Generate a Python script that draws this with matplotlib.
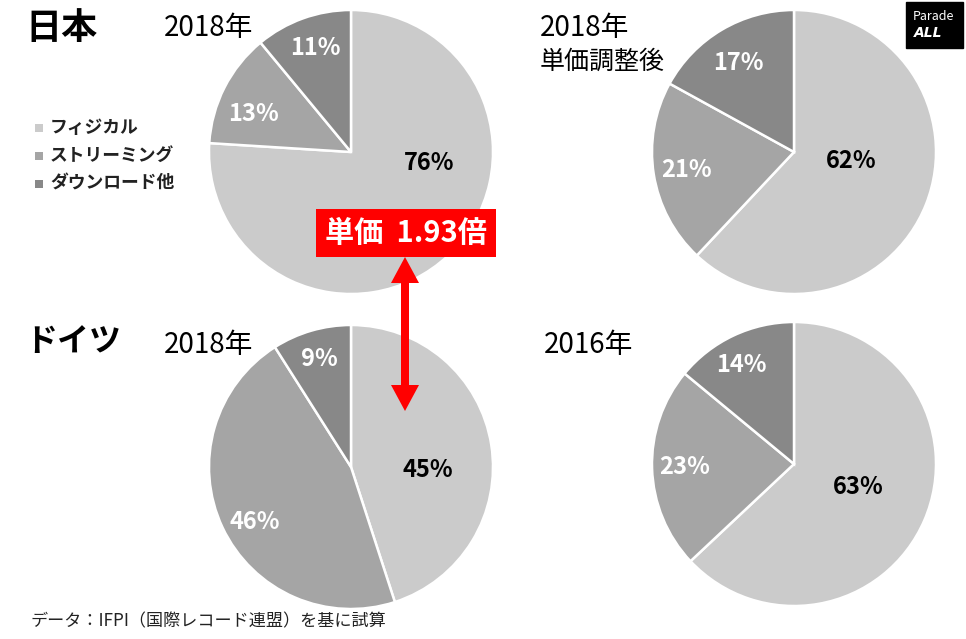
import matplotlib.pyplot as plt
import numpy as np

plt.rcParams['font.family'] = ['Noto Sans CJK JP', 'DejaVu Sans']

# data
categories = ['フィジカル', 'ストリーミング', 'ダウンロード他']
japan_2018 = [76, 13, 11]
japan_2018_adj = [62, 21, 17]
germany_2018 = [45, 46, 9]
germany_2016 = [63, 23, 14]
titles = ['2018年', '2018年\n単価調整後', '2018年', '2016年']
price_ratio = 1.93

colors = ['#cbcbcb', '#a5a5a5', '#888888']
label_colors = ['black', 'white', 'white']

W, H = 966, 639
fig = plt.figure(figsize=(W / 100, H / 100), dpi=100)
ax = fig.add_axes([0, 0, 1, 1])
ax.set_xlim(0, W)
ax.set_ylim(0, H)
ax.set_aspect('equal')
ax.axis('off')


def y(v):
    # pixel row -> data y
    return H - v


R = 142
pies = [
    (japan_2018, (351, 152), [(0.55, -0.08), (-0.69, 0.27), (-0.25, 0.73)]),
    (japan_2018_adj, (794, 152), [(0.40, -0.06), (-0.76, -0.13), (-0.39, 0.63)]),
    (germany_2018, (351, 467), [(0.54, -0.02), (-0.68, -0.39), (-0.22, 0.76)]),
    (germany_2016, (794, 464), [(0.45, -0.16), (-0.77, -0.02), (-0.37, 0.70)]),
]

for vals, (cx, cy), lpos in pies:
    ax.pie(vals, colors=colors, startangle=90, counterclock=False,
           center=(cx, y(cy)), radius=R, frame=True,
           wedgeprops=dict(edgecolor='white', linewidth=1.8))
    for v, (dx, dy), c in zip(vals, lpos, label_colors):
        ax.text(cx + dx * R, y(cy) + dy * R, f'{v}%', color=c,
                fontsize=17, fontweight='bold', ha='center', va='center')

# reset limits after pie
ax.set_xlim(0, W)
ax.set_ylim(0, H)
ax.axis('off')

# country labels
ax.text(25, y(28), '日本', fontsize=26, fontweight='bold', va='center')
ax.text(25, y(342), 'ドイツ', fontsize=23, fontweight='bold', va='center')

# chart titles
ax.text(164, y(28), titles[0], fontsize=20, va='center')
line1, line2 = titles[1].split('\n')
ax.text(540, y(28), line1, fontsize=20, va='center')
ax.text(540, y(62), line2, fontsize=18, va='center')
ax.text(164, y(345), titles[2], fontsize=20, va='center')
ax.text(544, y(345), titles[3], fontsize=20, va='center')

# legend
for i, (cat, c) in enumerate(zip(categories, colors)):
    yy = y(128 + i * 28)
    ax.scatter([39], [yy], marker='s', s=30, color=c, linewidths=0)
    ax.text(50, yy, cat, fontsize=12.8, fontweight='bold', va='center', color='#222222')

# price ratio box and double arrow
ax.text(406, y(233), f'単価  {price_ratio}倍', fontsize=21, fontweight='bold',
        color='white', ha='center', va='center',
        bbox=dict(boxstyle='square,pad=0.3', fc='#ff0000', ec='none'))
mid = (257 + 411) / 2
for end in (257, 411):
    ax.arrow(405, y(mid), 0, y(end) - y(mid), width=8, head_width=28,
             head_length=26, length_includes_head=True, color='#ff0000', lw=0)

# source note
ax.text(30, y(621), 'データ：IFPI（国際レコード連盟）を基に試算', fontsize=12.3,
        va='center', color='#222222')

# logo
ax.add_patch(plt.Rectangle((906, y(48)), 57, 46, color='black'))
ax.text(913, y(17), 'Parade', fontsize=9, color='white', va='center')
ax.text(914, y(33), 'ALL', fontsize=10, color='white', va='center',
        fontweight='bold', style='italic', family='DejaVu Sans')

fig.savefig('out.png', dpi=100)
